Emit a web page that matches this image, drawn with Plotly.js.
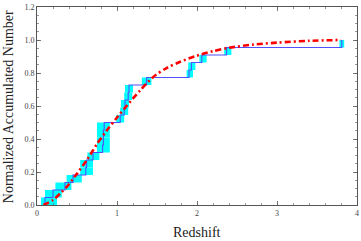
<!DOCTYPE html>
<html>
<head>
<meta charset="utf-8">
<script src="https://cdn.plot.ly/plotly-3.0.1.min.js"></script>
<style>html,body{margin:0;padding:0;background:#fff;}#chart{width:361px;height:241px;}</style>
</head>
<body>
<div id="chart"></div>
<script>
// Redshifts of the 22 objects (sorted), and their redshift uncertainty ranges
var redshifts = [0.10, 0.20, 0.35, 0.45, 0.61, 0.62, 0.70, 0.82, 0.83, 0.83, 0.84, 1.04, 1.09, 1.10, 1.14, 1.15, 1.37, 1.90, 1.93, 2.06, 2.37, 3.81];
var zLow  = [0.05, 0.10, 0.23, 0.37, 0.54, 0.54, 0.63, 0.75, 0.75, 0.75, 0.75, 0.99, 1.04, 1.05, 1.09, 1.10, 1.31, 1.87, 1.89, 2.03, 2.34, 3.78];
var zHigh = [0.25, 0.31, 0.43, 0.56, 0.70, 0.70, 0.78, 0.91, 0.91, 0.91, 0.91, 1.09, 1.14, 1.15, 1.19, 1.20, 1.43, 1.95, 1.98, 2.12, 2.43, 3.84];
// Model cumulative distribution
var modelZ = [0.08, 0.20, 0.29, 0.37, 0.50, 0.62, 0.75, 0.87, 1.00, 1.12, 1.29, 1.45, 1.62, 1.79, 2.00, 2.20, 2.40, 2.70, 3.00, 3.40, 3.80];
var modelN = [0.00, 0.03, 0.07, 0.109, 0.19, 0.27, 0.37, 0.45, 0.53, 0.60, 0.695, 0.775, 0.83, 0.868, 0.905, 0.932, 0.953, 0.972, 0.984, 0.995, 1.00];
var xTicks = [0, 1, 2, 3, 4];
var yTicks = [0, 0.2, 0.4, 0.6, 0.8, 1.0, 1.2];
var yTickText = ['0.0', '0.2', '0.4', '0.6', '0.8', '1.0', '1.2'];
var xTitle = 'Redshift';
var yTitle = 'Normalized Accumulated Number';

var N = redshifts.length;
var stepX = [redshifts[0]], stepY = [0];
for (var i = 0; i < N; i++) { stepX.push(redshifts[i]); stepY.push((i + 1) / N); }

var shapes = [];
for (var j = 0; j < N; j++) {
  shapes.push({type: 'rect', xref: 'x', yref: 'y', layer: 'below',
    x0: zLow[j], x1: zHigh[j], y0: j / N, y1: (j + 1) / N,
    fillcolor: '#00ffff', line: {width: 0}});
}

var traces = [
  {x: stepX, y: stepY, mode: 'lines', line: {shape: 'hv', color: '#5050ff', width: 1.1}, hoverinfo: 'skip'},
  {x: modelZ, y: modelN, mode: 'lines', line: {shape: 'spline', smoothing: 0.8, color: '#ff0000', width: 2.6, dash: '6px,3px,2px,3px'}, hoverinfo: 'skip'}
];

var axisCommon = {
  showgrid: false, zeroline: false, showline: true, linecolor: '#555', linewidth: 1,
  mirror: 'ticks', ticks: 'inside', ticklen: 4, tickcolor: '#555', tickwidth: 0.8,
  tickfont: {family: 'Liberation Serif', size: 8, color: '#444'}
};

var titleFont = {family: 'Liberation Serif', size: 14, color: '#222'};

var layout = {
  width: 361, height: 241,
  margin: {l: 37, r: 4, t: 7, b: 36},
  paper_bgcolor: '#fff', plot_bgcolor: '#fff',
  showlegend: false,
  shapes: shapes,
  xaxis: Object.assign({}, axisCommon, {
    range: [0, 4], tickvals: xTicks, ticktext: xTicks.map(String),
    minor: {dtick: 0.2, ticks: 'inside', ticklen: 2, tickcolor: '#555', tickwidth: 0.6}
  }),
  yaxis: Object.assign({}, axisCommon, {
    range: [0, 1.2], tickvals: yTicks, ticktext: yTickText,
    minor: {dtick: 0.05, ticks: 'inside', ticklen: 2, tickcolor: '#555', tickwidth: 0.6}
  }),
  annotations: [
    {text: xTitle, xref: 'paper', yref: 'paper', x: 0.5, y: -0.137, xanchor: 'center', yanchor: 'middle', showarrow: false, font: titleFont},
    {text: yTitle, xref: 'paper', yref: 'paper', x: -0.087, y: 0.495, xanchor: 'center', yanchor: 'middle', textangle: -90, showarrow: false, font: titleFont}
  ]
};

Plotly.newPlot('chart', traces, layout, {staticPlot: true, displayModeBar: false});
</script>
</body>
</html>
